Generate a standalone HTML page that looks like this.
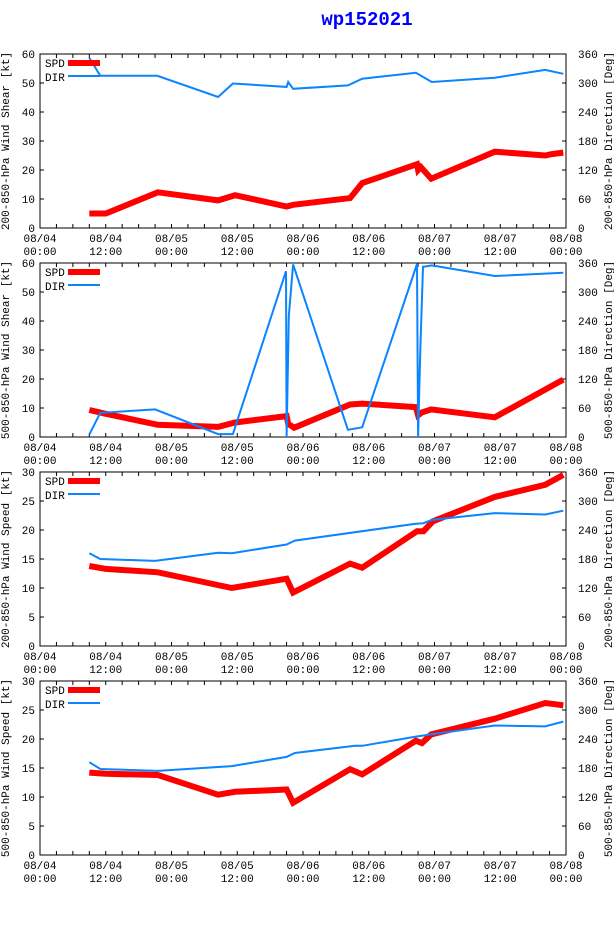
<!DOCTYPE html>
<html><head><meta charset="utf-8"><style>
body{margin:0;background:#fff;}
svg{display:block;font-family:"Liberation Mono","DejaVu Sans Mono",monospace;}
</style></head><body>
<svg id="c" width="614" height="936" xmlns="http://www.w3.org/2000/svg">
<text x="367" y="25" text-anchor="middle" font-size="19" font-weight="bold" fill="#0000ff">wp152021</text>
</svg>
<script>
// Hours since 08/04 00:00
const p1SpdT=[9,12,21.5,32.5,35.6,45,46.2,56.6,58.8,68.8,69,69.5,71.4,83,92.2,93.4,95.5];
const p1SpdV=[5,5,12.3,9.5,11.3,7.4,8,10.3,15.5,22,20,21,17,26.3,25,25.5,26];
const p1DirT=[9,11,21.4,32.5,35.2,45,45.3,46.2,56.2,58.8,68.6,71.5,83,92.2,95.5];
const p1DirV=[352,315,315,271,299,292,302,288,295,309,321,302,311,327,319];

const p2SpdT=[9,12,21.5,32.5,35.6,45,45.3,46.4,56.6,58.8,68.6,69,69.7,71.4,83,95.5];
const p2SpdV=[9.3,8,4.2,3.5,5,7.2,4.5,3.2,11.2,11.5,10.3,7.5,8.5,9.5,6.8,19.8];
const p2DirT=[9,11,21,32.5,35.2,44.9,45,45.4,46.2,56.2,58.8,68.8,69,69.4,69.9,71.5,83,95.5];
const p2DirV=[5,50,57,6,6,343,0,250,357,15,20,358,0,180,352,355,333,340];

const p3SpdT=[9,12,21.5,35,45,46.2,56.6,58.8,68.8,70,71.7,83,92.2,95.5];
const p3SpdV=[13.8,13.3,12.7,10,11.6,9.2,14.2,13.5,19.8,19.8,21.5,25.7,27.8,29.5];
const p3DirT=[9,11,21,32.5,35,45,46.5,68.6,70,71.5,83,92.2,95.5];
const p3DirV=[192,180,176,193,192,210,218,253,254,261,275,272,280];

const p4SpdT=[9,12,21.5,32.5,35.6,45,46.2,56.6,58.8,68.6,69.7,71.4,83,92.2,94,95.5];
const p4SpdV=[14.2,14,13.8,10.4,10.9,11.3,9,14.8,13.9,19.7,19.3,20.8,23.5,26.2,26,25.8];
const p4DirT=[9,11,21.5,35,45,46.5,57.5,58.8,68.6,71.5,83,92.2,95.5];
const p4DirV=[192,178,174,184,203,211,226,226,245,250,268,266,276];

const xTickLabels=["08/04","08/04","08/05","08/05","08/06","08/06","08/07","08/07","08/08"];
const xTickTimes=["00:00","12:00","00:00","12:00","00:00","12:00","00:00","12:00","00:00"];
const leftTitles=["200-850-hPa Wind Shear [kt]","500-850-hPa Wind Shear [kt]","200-850-hPa Wind Speed [kt]","500-850-hPa Wind Speed [kt]"];
const rightTitles=["200-850-hPa Direction [Deg]","500-850-hPa Direction [Deg]","200-850-hPa Direction [Deg]","500-850-hPa Direction [Deg]"];
const leftMax=[60,60,30,30];
const leftStep=[10,10,5,5];

const svg=document.getElementById('c');
const NS='http://www.w3.org/2000/svg';
const L=40,R=566,H=174;
const tops=[54,263,472,681];
function mk(tag,attrs,parent){const e=document.createElementNS(NS,tag);for(const k in attrs)e.setAttribute(k,attrs[k]);(parent||svg).appendChild(e);return e;}
function xs(h){return L+h*(R-L)/96;}
const panels=[[p1SpdT,p1SpdV,p1DirT,p1DirV],[p2SpdT,p2SpdV,p2DirT,p2DirV],[p3SpdT,p3SpdV,p3DirT,p3DirV],[p4SpdT,p4SpdV,p4DirT,p4DirV]];
panels.forEach((p,i)=>{
  const top=tops[i],bot=top+H;
  const g=mk('g',{});
  
  
  const ys=v=>bot-v/leftMax[i]*H;
  const yd=v=>bot-v/360*H;
  const fr=mk('rect',{x:L,y:top,width:R-L,height:H,fill:'none',stroke:'#000','stroke-width':1},g);
  
  
  for(let h=0;h<=96;h+=3){
    const x=xs(h);
    mk('line',{x1:x,y1:bot,x2:x,y2:bot-4,stroke:'#000'},g);
    mk('line',{x1:x,y1:top,x2:x,y2:top+4,stroke:'#000'},g);
  }
  xTickLabels.forEach((lb,k)=>{
    const x=xs(k*12);
    const t=mk('text',{x:x,y:bot+14,'text-anchor':'middle','font-size':11},g);t.textContent=lb;
    
    
    const t2=mk('text',{x:x,y:bot+27,'text-anchor':'middle','font-size':11},g);t2.textContent=xTickTimes[k];
    
    
  });
  for(let v=0;v<=leftMax[i];v+=leftStep[i]){
    const y=ys(v);
    mk('line',{x1:L,y1:y,x2:L+4,y2:y,stroke:'#000'},g);
    const t=mk('text',{x:35,y:y+4,'text-anchor':'end','font-size':11},g);t.textContent=v;
    
    
  }
  for(let v=0;v<=360;v+=60){
    const y=yd(v);
    mk('line',{x1:R,y1:y,x2:R-4,y2:y,stroke:'#000'},g);
    const t=mk('text',{x:578,y:y+4,'font-size':11},g);t.textContent=v;
    
    
  }
  const cy=top+H/2;
  const lt=mk('text',{x:0,y:0,'text-anchor':'middle','font-size':11,transform:`translate(9,${cy}) rotate(-90)`},g);lt.textContent=leftTitles[i];
  
  
  const rt=mk('text',{x:0,y:0,'text-anchor':'middle','font-size':11,transform:`translate(612,${cy}) rotate(-90)`},g);rt.textContent=rightTitles[i];
  
  
  const dPts=p[2].map((t,k)=>xs(t).toFixed(1)+','+yd(p[3][k]).toFixed(1)).join(' ');
  const sPts=p[0].map((t,k)=>xs(t).toFixed(1)+','+ys(p[1][k]).toFixed(1)).join(' ');
  const sl=mk('polyline',{points:sPts,fill:'none',stroke:'#ff0000','stroke-width':6,'stroke-linejoin':'miter'},g);
  
  
  const dl=mk('polyline',{points:dPts,fill:'none',stroke:'#0a84ff','stroke-width':2},g);
  
  
  const t1=mk('text',{x:45,y:top+13,'font-size':11},g);t1.textContent='SPD';
  
  
  const l1=mk('line',{x1:68,y1:top+9,x2:100,y2:top+9,stroke:'#ff0000','stroke-width':6},g);
  
  
  const t2=mk('text',{x:45,y:top+27,'font-size':11},g);t2.textContent='DIR';
  
  
  const l2=mk('line',{x1:68,y1:top+22,x2:100,y2:top+22,stroke:'#0a84ff','stroke-width':2},g);
  
  
});
</script>
</body></html>
